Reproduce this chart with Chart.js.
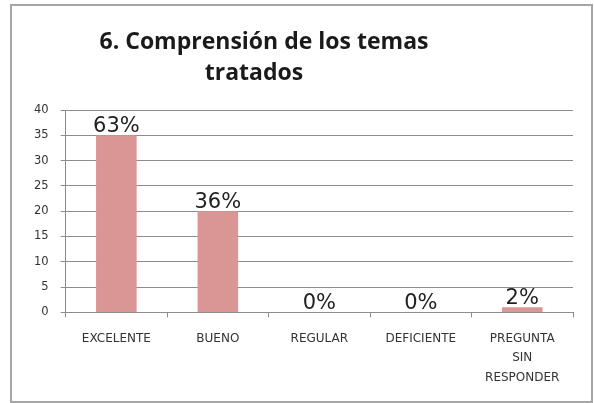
<!DOCTYPE html>
<html>
<head>
<meta charset="utf-8">
<script src="https://cdn.jsdelivr.net/npm/chart.js@4"></script>
<style>
  html, body { margin: 0; padding: 0; background: #fff; }
  #wrap { width: 594px; height: 403px; position: relative; }
</style>
</head>
<body>
<div id="wrap"><canvas id="grafica" width="594" height="403"></canvas></div>
<script>
// datos
const categorias = ['EXCELENTE', 'BUENO', 'REGULAR', 'DEFICIENTE', ['PREGUNTA', 'SIN', 'RESPONDER']];
const valores = [35, 20, 0, 0, 1];
const porcentajes = ['63%', '36%', '0%', '0%', '2%'];
const tituloLineas = ['6. Comprensión de los temas', 'tratados'];

// marco gris alrededor del gráfico
const marco = {
  id: 'marco',
  beforeDraw(chart) {
    const c = chart.ctx;
    c.save();
    c.fillStyle = '#fff';
    c.fillRect(0, 0, chart.width, chart.height);
    c.strokeStyle = '#a6a6a6';
    c.lineWidth = 2;
    c.strokeRect(11, 5, 581, 397);
    c.restore();
  }
};

// titulo dibujado a mano (ligeramente a la izquierda, como el original)
const titulo = {
  id: 'titulo',
  afterDraw(chart) {
    const c = chart.ctx;
    c.save();
    c.font = 'bold 23px "Open Sans"';
    c.fillStyle = '#1a1a1a';
    c.textAlign = 'center';
    c.textBaseline = 'alphabetic';
    c.fillText(tituloLineas[0], 264, 49);
    c.fillText(tituloLineas[1], 254, 80);
    c.restore();
  }
};

// etiquetas de porcentaje sobre las barras
const etiquetas = {
  id: 'etiquetas',
  afterDatasetsDraw(chart) {
    const c = chart.ctx;
    const meta = chart.getDatasetMeta(0);
    c.save();
    c.font = '21px "DejaVu Sans"';
    c.fillStyle = '#222';
    c.textAlign = 'center';
    c.textBaseline = 'bottom';
    meta.data.forEach((bar, i) => {
      c.fillText(porcentajes[i], bar.x, bar.y + 2);
    });
    c.restore();
  }
};

new Chart(document.getElementById('grafica').getContext('2d'), {
  type: 'bar',
  data: {
    labels: categorias,
    datasets: [{
      data: valores,
      backgroundColor: '#d99694',
      borderColor: '#d99694',
      borderWidth: 0,
      categoryPercentage: 1,
      barPercentage: 0.4
    }]
  },
  options: {
    responsive: false,
    animation: false,
    layout: { padding: { left: 22, right: 21, top: 110, bottom: 4 } },
    plugins: {
      legend: { display: false },
      tooltip: { enabled: false },
      title: { display: false }
    },
    scales: {
      y: {
        min: 0,
        max: 40,
        ticks: {
          stepSize: 5,
          padding: 12,
          color: '#333',
          font: { family: 'DejaVu Sans', size: 11.5 }
        },
        grid: { color: '#8c8c8c', lineWidth: 1, tickLength: 5 },
        border: { color: '#8c8c8c', width: 1 }
      },
      x: {
        offset: true,
        ticks: {
          padding: 12,
          color: '#333',
          maxRotation: 0,
          font: { family: 'DejaVu Sans', size: 12, lineHeight: 1.6 }
        },
        grid: { offset: true, drawOnChartArea: false, color: '#8c8c8c', tickLength: 5 },
        border: { color: '#8c8c8c', width: 1 }
      }
    }
  },
  plugins: [marco, titulo, etiquetas]
});
</script>
</body>
</html>
